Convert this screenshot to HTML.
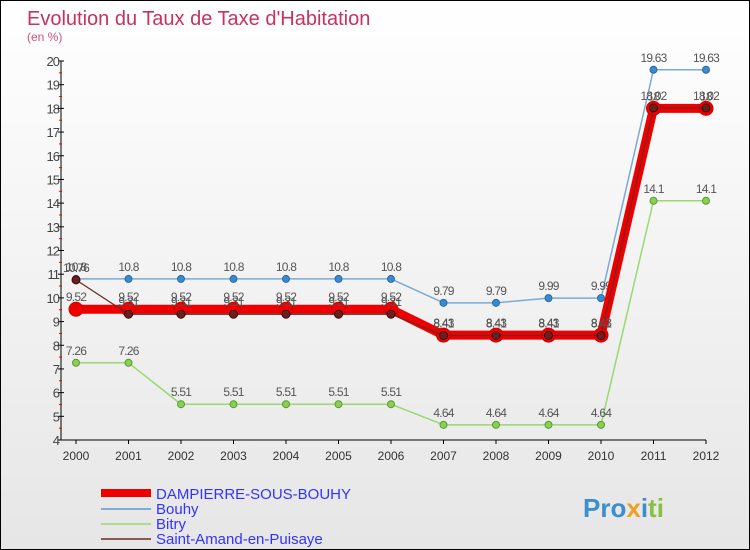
<!DOCTYPE html>
<html><head><meta charset="utf-8"><style>
body{margin:0;}
#c{position:relative;width:748px;height:548px;border:1px solid #000;background:linear-gradient(#fff,#e6e6e6);font-family:"Liberation Sans","DejaVu Sans",sans-serif;overflow:hidden}
</style></head><body>
<div id="c">
<svg id="s" width="748" height="548" xmlns="http://www.w3.org/2000/svg">
<text x="26" y="24" font-size="20" fill="#c8325f">Evolution du Taux de Taxe d'Habitation</text>
<text x="26" y="40" font-size="12" fill="#d0507a">(en %)</text>
<g id="axes"></g><g id="series"></g>
<g font-size="15">
<rect x="100" y="488" width="50" height="8" fill="#e00"/>
<text x="155" y="498" fill="#33f">DAMPIERRE-SOUS-BOUHY</text>
<line x1="100" y1="508" x2="150" y2="508" stroke="#5a9ad0" stroke-width="1.5"/>
<text x="155" y="513" fill="#33f">Bouhy</text>
<line x1="100" y1="523" x2="150" y2="523" stroke="#9ad870" stroke-width="1.5"/>
<text x="155" y="528" fill="#33f">Bitry</text>
<line x1="100" y1="538" x2="150" y2="538" stroke="#6a2a2a" stroke-width="1.5"/>
<text x="155" y="543" fill="#33f">Saint-Amand-en-Puisaye</text>
</g>
<text x="582" y="516" font-size="26" font-weight="bold"><tspan fill="#3a8fd0">Pro</tspan><tspan fill="#f0a020">x</tspan><tspan fill="#3a8fd0">i</tspan><tspan fill="#8ac040">ti</tspan></text>
</svg></div>
<script>
const years=[2000,2001,2002,2003,2004,2005,2006,2007,2008,2009,2010,2011,2012];
const dampierre=[9.52,9.52,9.52,9.52,9.52,9.52,9.52,8.43,8.43,8.43,8.43,18,18];
const bouhy=[10.8,10.8,10.8,10.8,10.8,10.8,10.8,9.79,9.79,9.99,9.99,19.63,19.63];
const bitry=[7.26,7.26,5.51,5.51,5.51,5.51,5.51,4.64,4.64,4.64,4.64,14.1,14.1];
const saintAmand=[10.76,9.31,9.31,9.31,9.31,9.31,9.31,8.41,8.41,8.41,8.41,18.02,18.02];
const yTicks=[4,5,6,7,8,9,10,11,12,13,14,15,16,17,18,19,20];
const NS="http://www.w3.org/2000/svg";
const xs=i=>75+i*52.5;
const ys=v=>439-(v-4)*(379/16);
function mk(t,a,p){const e=document.createElementNS(NS,t);for(const k in a)e.setAttribute(k,a[k]);p.appendChild(e);return e;}
const ax=document.getElementById('axes');
let l=mk('line',{x1:60,y1:ys(20),x2:60,y2:ys(4),stroke:'#000'},ax);


l=mk('line',{x1:60,y1:ys(4),x2:xs(12),y2:ys(4),stroke:'#000'},ax);


yTicks.forEach(v=>{mk('line',{x1:57,y1:ys(v),x2:63,y2:ys(v),stroke:'#000'},ax);
 if(v<20)mk('line',{x1:58,y1:ys(v+0.5),x2:61,y2:ys(v+0.5),stroke:'#e00'},ax);
 const t=mk('text',{x:58,y:ys(v)+5,'font-size':13,fill:'#444','text-anchor':'end','letter-spacing':'-1'},ax);t.textContent=v;
 
 });
years.forEach((y,i)=>{mk('line',{x1:xs(i),y1:ys(4),x2:xs(i),y2:ys(4)+4,stroke:'#000'},ax);
 const t=mk('text',{x:xs(i),y:ys(4)+20,'font-size':12,fill:'#333','text-anchor':'middle'},ax);t.textContent=y;
 
 });
const sg=document.getElementById('series');
function draw(name,vals,color,w,r,fill,stroke){
 const g=mk('g',{},sg);
 
 
 mk('polyline',{points:vals.map((v,i)=>xs(i)+','+ys(v)).join(' '),fill:'none',stroke:color,'stroke-width':w,'stroke-linejoin':'round'},g);
 vals.forEach((v,i)=>{const c=mk('circle',{cx:xs(i),cy:ys(v),r:r,fill:fill,stroke:stroke,'stroke-width':1},g);
  
  
  const t=mk('text',{x:xs(i),y:ys(v)-8,'font-size':12,fill:'#555','text-anchor':'middle','letter-spacing':'-0.8'},g);t.textContent=v;});
}
draw('bitry',bitry,'#9ad870',1.5,3.5,'#8ad050','#5a9a30');
draw('bouhy',bouhy,'#7aaad8',1.5,3.5,'#3a8ad0','#2a6aa0');
draw('dampierre',dampierre,'#e00',9,7,'#e00','#c00');
draw('saint-amand',saintAmand,'#6a2a2a',1.2,4,'#6a2020','#400');
</script>
</body></html>
